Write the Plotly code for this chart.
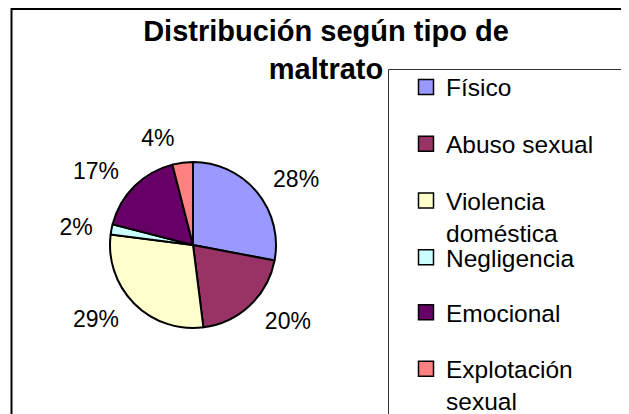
import plotly.graph_objs as go

# datos
tipos = ["Físico", "Abuso sexual", "Violencia doméstica", "Negligencia",
         "Emocional", "Explotación sexual"]
etiquetas_leyenda = ["Físico", "Abuso sexual", "Violencia<br>doméstica", "Negligencia",
                     "Emocional", "Explotación<br>sexual"]
porcentajes = [28, 20, 29, 2, 17, 4]
colores = ["#9999FF", "#993366", "#FFFFCC", "#CCFFFF", "#660066", "#FF8080"]

W, H = 629, 414
OFF = 8  # margen del body en la pagina html
FONT = "Arial, Liberation Sans, sans-serif"

# centro y radio del pastel (pixeles de pantalla)
cx, cy, r = 193 - OFF, 245 - OFF, 83
# separacion de las etiquetas respecto al borde del pastel
sep_etiquetas = 0.15


def dom(radio):
    return dict(x=[(cx - radio) / W, (cx + radio) / W],
                y=[(H - cy - radio) / H, (H - cy + radio) / H])


fig = go.Figure()

# pastel principal
fig.add_trace(
    go.Pie(
        labels=tipos,
        values=porcentajes,
        marker=dict(colors=colores, line=dict(color="black", width=2)),
        sort=False,
        direction="clockwise",
        rotation=0,
        textinfo="none",
        showlegend=False,
        domain=dom(r),
    )
)

# pastel transparente solo para las etiquetas de porcentaje
fig.add_trace(
    go.Pie(
        labels=tipos,
        values=porcentajes,
        marker=dict(colors=["rgba(0,0,0,0)"] * len(tipos), line=dict(width=0)),
        sort=False,
        direction="clockwise",
        rotation=0,
        pull=sep_etiquetas,
        textinfo="percent",
        texttemplate="%{percent:.0%}",
        textposition="outside",
        outsidetextfont=dict(family=FONT, size=23, color="black"),
        hoverinfo="skip",
        showlegend=False,
        domain=dom(r * (1 + sep_etiquetas)),
    )
)

# leyenda: una entrada por tipo
leg_centros = [86.5, 143.3, 200, 256.7, 311.7, 368.3]
for i, (nombre, col) in enumerate(zip(etiquetas_leyenda, colores)):
    key = "legend" if i == 0 else f"legend{i + 1}"
    fig.add_trace(
        go.Scatter(
            x=[None], y=[None],
            mode="markers",
            name=nombre,
            marker=dict(symbol="square", size=15, color=col,
                        line=dict(color="black", width=1.5)),
            legend=key,
        )
    )
    fig.update_layout({
        key: dict(
            x=(406 - OFF) / W, xanchor="left",
            y=1 - (leg_centros[i] - OFF - 22) / H, yanchor="top",
            valign="top",
            bgcolor="rgba(0,0,0,0)",
            borderwidth=0,
            font=dict(family=FONT, size=24.5, color="black"),
        )
    })

fig.update_layout(
    width=W, height=H,
    margin=dict(l=0, r=0, t=0, b=0, autoexpand=False),
    paper_bgcolor="white",
    plot_bgcolor="white",
    xaxis=dict(visible=False),
    yaxis=dict(visible=False),
    title=dict(
        text="<b>Distribución según tipo de<br>maltrato</b>",
        x=(326 - OFF) / W, xanchor="center",
        y=1 - 33 / H, yanchor="top",
        font=dict(family=FONT, size=29, color="black"),
    ),
    shapes=[
        dict(type="rect", xref="paper", yref="paper",
             x0=(11.5 - OFF) / W, x1=1.05, y0=-0.05, y1=1 - 1 / H,
             line=dict(color="black", width=2)),
        dict(type="rect", xref="paper", yref="paper",
             x0=(388.5 - OFF) / W, x1=1.05, y0=-0.05, y1=1 - (69.5 - OFF) / H,
             line=dict(color="#333333", width=1)),
    ],
)

fig.write_html("out.html")
